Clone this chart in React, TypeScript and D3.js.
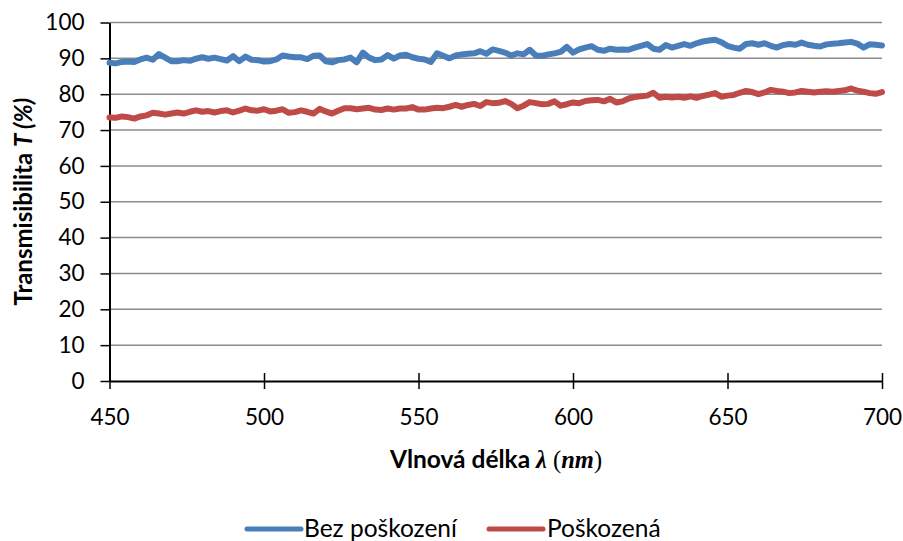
import React, { useEffect, useRef } from 'react';
import * as d3 from 'd3';

// wavelength grid (nm), one reading every 2 nm
const wavelengths: number[] = d3.range(450, 701, 2);

// "Bez poškození" transmittance (%)
const intact: number[] = [
  88.8, 88.6, 89.0, 89.1, 89.0, 89.7, 90.2, 89.6, 91.2, 90.2,
  89.2, 89.2, 89.5, 89.3, 89.9, 90.3, 89.9, 90.2, 89.8, 89.4,
  90.6, 89.2, 90.5, 89.6, 89.5, 89.1, 89.2, 89.7, 90.8, 90.5,
  90.3, 90.3, 89.8, 90.7, 90.8, 89.2, 88.9, 89.5, 89.7, 90.2,
  88.9, 91.6, 90.2, 89.5, 89.7, 90.9, 89.9, 90.8, 91.0, 90.3,
  89.9, 89.7, 89.0, 91.4, 90.7, 90.0, 90.8, 91.1, 91.3, 91.4,
  92.0, 91.3, 92.5, 92.1, 91.6, 90.8, 91.4, 91.1, 92.4, 90.8,
  90.7, 91.1, 91.4, 91.8, 93.2, 91.6, 92.5, 93.0, 93.4, 92.4,
  92.1, 92.7, 92.4, 92.5, 92.4, 93.0, 93.5, 94.0, 92.7, 92.4,
  93.7, 93.0, 93.5, 94.0, 93.5, 94.2, 94.7, 95.0, 95.2, 94.5,
  93.5, 93.0, 92.7, 94.0, 94.2, 93.8, 94.2, 93.5, 93.0, 93.7,
  94.0, 93.8, 94.4, 93.8, 93.5, 93.3, 93.9, 94.1, 94.2, 94.4,
  94.6, 94.1, 93.0, 93.9, 93.8, 93.6,
];

// "Poškozená" transmittance (%)
const damaged: number[] = [
  73.5, 73.4, 73.8, 73.6, 73.2, 73.8, 74.1, 74.8, 74.6, 74.3,
  74.6, 74.9, 74.6, 75.1, 75.5, 75.1, 75.3, 74.9, 75.3, 75.5,
  74.9, 75.4, 76.0, 75.5, 75.4, 75.8, 75.2, 75.4, 75.8, 74.8,
  75.0, 75.5, 75.1, 74.6, 75.9, 75.2, 74.6, 75.4, 76.1, 76.1,
  75.8, 76.0, 76.2, 75.7, 75.6, 76.0, 75.7, 76.0, 76.0, 76.4,
  75.7, 75.7, 76.0, 76.2, 76.1, 76.5, 77.0, 76.5, 77.0, 77.3,
  76.7, 77.8, 77.5, 77.6, 78.1, 77.3, 76.1, 76.8, 77.8, 77.5,
  77.2, 77.3, 78.0, 76.8, 77.2, 77.7, 77.5, 78.1, 78.3, 78.4,
  78.0, 78.7, 77.7, 78.0, 78.8, 79.2, 79.4, 79.6, 80.4, 79.0,
  79.3, 79.1, 79.3, 79.0, 79.4, 79.0, 79.5, 79.9, 80.3, 79.3,
  79.6, 79.8, 80.4, 80.9, 80.6, 80.0, 80.5, 81.2, 80.9, 80.7,
  80.3, 80.5, 80.9, 80.7, 80.5, 80.7, 80.8, 80.7, 80.9, 81.1,
  81.6, 81.0, 80.7, 80.3, 80.1, 80.6,
];

const xTicks: number[] = [450, 500, 550, 600, 650, 700];
const yTicks: number[] = [0, 10, 20, 30, 40, 50, 60, 70, 80, 90, 100];

const series = [
  { name: 'Bez poškození', values: intact, color: '#4A7EBB' },
  { name: 'Poškozená', values: damaged, color: '#BE4B48' },
];

const App = () => {
  const svgRef = useRef<SVGSVGElement | null>(null);

  useEffect(() => {
    const svg = d3.select(svgRef.current);
    svg.selectAll('*').remove();

    const left = 109.5;
    const right = 882;
    const top = 22.5;
    const bottom = 381;
    const font = 'Lato, Carlito, Calibri, sans-serif';

    const x = d3.scaleLinear().domain([450, 700]).range([left, right]);
    const y = d3.scaleLinear().domain([0, 100]).range([bottom, top]);

    // gridlines
    svg.append('g')
      .selectAll('line')
      .data(yTicks.filter(t => t > 0))
      .join('line')
      .attr('x1', left)
      .attr('x2', right)
      .attr('y1', d => y(d))
      .attr('y2', d => y(d))
      .attr('stroke', '#8C8C8C')
      .attr('stroke-width', 1.5);

    // y axis
    const yAxis = svg.append('g')
      .attr('transform', `translate(${left},0)`)
      .call(d3.axisLeft(y).tickValues(yTicks).tickSize(9).tickSizeOuter(0).tickPadding(16));
    yAxis.select('.domain').attr('stroke', '#000').attr('stroke-width', 2);
    yAxis.selectAll('.tick line').attr('stroke', '#000').attr('stroke-width', 1.5);
    yAxis.selectAll('.tick text')
      .attr('font-family', font)
      .attr('font-size', 22.5)
      .attr('fill', '#000');

    // x axis, ticks cross the line
    const xAxis = svg.append('g')
      .attr('transform', `translate(0,${bottom})`)
      .call(d3.axisBottom(x).tickValues(xTicks).tickSize(8).tickSizeOuter(0).tickPadding(20));
    xAxis.select('.domain').attr('stroke', '#000').attr('stroke-width', 2);
    xAxis.selectAll('.tick line')
      .attr('y1', -8)
      .attr('y2', 8)
      .attr('stroke', '#000')
      .attr('stroke-width', 1.5);
    xAxis.selectAll('.tick text')
      .attr('font-family', font)
      .attr('font-size', 22.5)
      .attr('fill', '#000');

    // series
    const line = d3.line<number>()
      .x((_, i) => x(wavelengths[i]))
      .y(d => y(d));

    series.forEach(s => {
      svg.append('path')
        .datum(s.values)
        .attr('fill', 'none')
        .attr('stroke', s.color)
        .attr('stroke-width', 6)
        .attr('stroke-linejoin', 'round')
        .attr('stroke-linecap', 'round')
        .attr('d', line);
    });

    // x axis title
    const xt = svg.append('text')
      .attr('x', 496)
      .attr('y', 468)
      .attr('text-anchor', 'middle')
      .attr('font-family', font)
      .attr('font-weight', 'bold')
      .attr('font-size', 24.5)
      .attr('fill', '#000');
    xt.append('tspan').text('Vlnová délka ');
    xt.append('tspan').attr('font-family', 'Liberation Serif, serif').attr('font-style', 'italic').text('λ');
    xt.append('tspan').attr('font-family', 'Liberation Serif, serif').attr('font-weight', 'normal').text(' (');
    xt.append('tspan').attr('font-family', 'Liberation Serif, serif').attr('font-style', 'italic').text('nm');
    xt.append('tspan').attr('font-family', 'Liberation Serif, serif').attr('font-weight', 'normal').text(')');

    // y axis title
    const yt = svg.append('text')
      .attr('transform', `translate(32,${(top + bottom) / 2}) rotate(-90)`)
      .attr('text-anchor', 'middle')
      .attr('font-family', font)
      .attr('font-weight', 'bold')
      .attr('font-size', 24)
      .attr('fill', '#000');
    yt.append('tspan').text('Transmisibilita ');
    yt.append('tspan').attr('font-style', 'italic').text('T (%)');

    // legend
    const legendItems = [
      { ...series[0], lx: 247, tx: 304 },
      { ...series[1], lx: 489, tx: 547 },
    ];
    const lg = svg.append('g');
    legendItems.forEach(it => {
      lg.append('line')
        .attr('x1', it.lx)
        .attr('x2', it.lx + 54)
        .attr('y1', 529)
        .attr('y2', 529)
        .attr('stroke', it.color)
        .attr('stroke-width', 5)
        .attr('stroke-linecap', 'round');
      lg.append('text')
        .attr('x', it.tx)
        .attr('y', 537)
        .attr('font-family', font)
        .attr('font-size', 24.5)
        .attr('fill', '#000')
        .text(it.name);
    });
  }, []);

  return (
    <svg
      ref={svgRef}
      width={903}
      height={541}
      style={{ position: 'absolute', left: 0, top: 0, background: '#fff' }}
    />
  );
};

export default App;
